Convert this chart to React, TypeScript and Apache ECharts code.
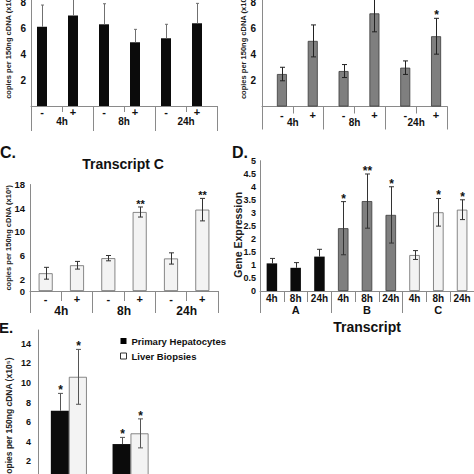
import React, { useEffect, useRef } from "react";
import * as echarts from "echarts";

// ---------------- data ----------------
const treatmentLabels = ["-", "+", "-", "+", "-", "+"];
const timeLabels = ["4h", "8h", "24h"];
const copiesTitle3 = "copies per 150ng cDNA (x10³)";
const copiesTitle5 = "copies per 150ng cDNA (x10⁵)";

const aValues = [6.13, 7.0, 6.32, 4.93, 5.24, 6.4];
const aErrors = [1.68, 1.5, 1.59, 1.0, 1.08, 1.54];
const abTicks = [2, 4, 6, 8];

const bValues = [2.5, 5.05, 2.73, 7.17, 2.99, 5.41];
const bErrors = [0.52, 1.23, 0.5, 1.42, 0.52, 1.38];
const bSignif = ["", "", "", "", "", "*"];

const cTitle = "Transcript C";
const cValues = [3.0, 4.35, 5.55, 13.35, 5.5, 13.75];
const cErrors = [1.0, 0.65, 0.45, 0.85, 0.95, 1.9];
const cSignif = ["", "", "", "**", "", "**"];
const cTicks = [0, 2, 6, 10, 14, 18];

const dTimeLabels = ["4h", "8h", "24h", "4h", "8h", "24h", "4h", "8h", "24h"];
const dTranscripts = ["A", "B", "C"];
const dValues = [1.06, 0.89, 1.32, 2.41, 3.45, 2.92, 1.38, 3.02, 3.12];
const dErrors = [0.19, 0.2, 0.28, 1.02, 1.04, 1.08, 0.17, 0.53, 0.38];
const dSignif = ["", "", "", "*", "**", "*", "", "*", "*"];
const dYTitle = "Gene Expression";
const dXTitle = "Transcript";

const eGroups = ["1", "2"];
const eNames = ["Primary Hepatocytes", "Liver Biopsies"];
const eHepatocytes = [7.16, 3.76];
const eHepErrors = [1.77, 0.68];
const eBiopsies = [10.62, 4.85];
const eBioErrors = [2.8, 1.48];
const eHepSignif = ["*", "*"];
const eBioSignif = ["*", "*"];

const panelLetters = ["C.", "D.", "E."];

// ---------------- styles ----------------
const FONT = "'Liberation Sans', Arial, Helvetica, sans-serif";
const AXIS = "#8a8a8a";
const TEXT = "#111111";
const BLACK = { color: "#0b0b0b" };
const GRAY = { color: "#7f7f7f", borderColor: "#3a3a3a", borderWidth: 0.8 };
const LIGHT = { color: "#f3f3f3", borderColor: "#6a6a6a", borderWidth: 0.8 };

function grid(left: number, top: number, width: number, height: number) {
  return { left, top, width, height, containLabel: false, outerBoundsMode: "none" };
}

function primaryX(gridIndex: number, data: string[], tickLen: number, margin: number, fontSize: number, shift: number) {
  return {
    type: "category",
    gridIndex,
    data,
    position: "bottom",
    axisLine: { show: true, lineStyle: { color: AXIS, width: 1 } },
    axisTick: { show: true, interval: 0, length: tickLen, lineStyle: { color: AXIS, width: 1 } },
    axisLabel: {
      interval: 0,
      margin,
      fontSize,
      fontWeight: "bold",
      color: TEXT,
      fontFamily: FONT,
      padding: shift < 0 ? [0, -2 * shift, 0, 0] : shift > 0 ? [0, 0, 0, 2 * shift] : 0,
    },
    splitLine: { show: false },
  };
}

function groupX(gridIndex: number, data: string[], tickLen: number, margin: number, fontSize: number, extra: any = {}) {
  return {
    type: "category",
    gridIndex,
    data,
    position: "bottom",
    axisLine: { show: false },
    axisTick: { show: true, interval: 0, length: tickLen, lineStyle: { color: AXIS, width: 1 } },
    axisLabel: { interval: 0, margin, fontSize, fontWeight: "bold", color: TEXT, fontFamily: FONT },
    splitLine: { show: false },
    ...extra,
  };
}

function valueY(
  gridIndex: number,
  max: number,
  interval: number,
  ticks: number[] | null,
  margin: number,
  fontSize: number,
  name: string,
  nameGap: number,
  nameSize: number,
  namePad: number[],
  hideMax: boolean
) {
  return {
    type: "value",
    gridIndex,
    min: 0,
    max,
    interval,
    axisLine: { show: true, lineStyle: { color: AXIS, width: 1 } },
    axisTick: { show: false },
    splitLine: { show: false },
    axisLabel: {
      margin,
      fontSize,
      fontWeight: "bold",
      color: TEXT,
      fontFamily: FONT,
      showMaxLabel: hideMax ? false : true,
      formatter: (v: number) => (ticks === null || ticks.indexOf(v) >= 0 ? String(v) : ""),
    },
    name,
    nameLocation: "middle",
    nameGap,
    nameMoveOverlap: false,
    nameTextStyle: { fontSize: nameSize, fontWeight: "bold", color: "#222", fontFamily: FONT, padding: namePad },
  };
}

function errorBars(
  xAxisIndex: number,
  yAxisIndex: number,
  values: number[],
  errors: number[],
  signif: string[],
  opts: { offset: number; both: (i: number) => boolean; color: string; cap: number; starSize: number }
) {
  return {
    type: "custom",
    xAxisIndex,
    yAxisIndex,
    clip: false,
    silent: true,
    z: 5,
    data: values.map((v, i) => [i, v]),
    renderItem: (params: any, api: any) => {
      const i = params.dataIndex;
      const v = values[i];
      const e = errors[i];
      const pTop = api.coord([i, v + e]);
      const pMid = api.coord([i, v]);
      const pBot = api.coord([i, v - e]);
      const x = Math.round(pTop[0] + opts.offset) + 0.5;
      const both = opts.both(i);
      const yEnd = both ? pBot[1] : pMid[1];
      const ls = { stroke: opts.color, lineWidth: 1 };
      const children: any[] = [
        { type: "line", shape: { x1: x, y1: pTop[1], x2: x, y2: yEnd }, style: ls },
        { type: "line", shape: { x1: x - opts.cap, y1: pTop[1], x2: x + opts.cap, y2: pTop[1] }, style: ls },
      ];
      if (both) {
        children.push({ type: "line", shape: { x1: x - opts.cap, y1: pBot[1], x2: x + opts.cap, y2: pBot[1] }, style: ls });
      }
      if (signif[i]) {
        children.push({
          type: "text",
          x,
          y: pTop[1] - 3,
          style: {
            text: signif[i],
            fill: TEXT,
            font: `bold ${opts.starSize}px ${FONT}`,
            align: "center",
            verticalAlign: "middle",
            textAlign: "center",
            textVerticalAlign: "middle",
          },
        });
      }
      return { type: "group", children };
    },
  };
}

function letter(text: string, x: number, y: number, size: number, align = "left") {
  return {
    type: "text",
    x,
    y,
    style: {
      text,
      fill: TEXT,
      font: `bold ${size}px ${FONT}`,
      align,
      textAlign: align,
      verticalAlign: "middle",
      textVerticalAlign: "middle",
    },
  };
}

function buildOption() {
  const none = () => false;
  const all = () => true;
  return {
    animation: false,
    backgroundColor: "#ffffff",
    textStyle: { fontFamily: FONT },
    grid: [
      grid(31, 0, 186, 106),
      grid(262, 0, 185, 106.5),
      grid(30, 184.5, 188, 106.5),
      grid(260, 160.7, 214, 130.3),
      grid(38, 330, 123.4, 150.9),
    ],
    xAxis: [
      primaryX(0, treatmentLabels, 6, 0, 11, -4.5),
      groupX(0, timeLabels, 25, 10, 10),
      primaryX(1, treatmentLabels, 7, 3, 11, 4.5),
      groupX(1, timeLabels, 23, 11, 10),
      primaryX(2, treatmentLabels, 10, 2, 11, 0),
      groupX(2, timeLabels, 22, 13.5, 12),
      primaryX(3, dTimeLabels, 11, 2, 10, 0),
      groupX(3, dTranscripts, 22, 13.5, 11, {
        name: dXTitle,
        nameLocation: "middle",
        nameGap: 29,
        nameMoveOverlap: false,
        nameTextStyle: { fontSize: 14, fontWeight: "bold", color: TEXT, fontFamily: FONT },
      }),
      {
        type: "category",
        gridIndex: 4,
        data: eGroups,
        axisLine: { show: true, lineStyle: { color: AXIS } },
        axisTick: { show: false },
        axisLabel: { show: false },
      },
    ],
    yAxis: [
      valueY(0, 8.2, 2, abTicks, 5, 10, copiesTitle3, 19, 7.5, [0, 0, 0, 14], true),
      valueY(1, 8.2, 2, abTicks, 6, 10, copiesTitle3, 15, 7.5, [0, 0, 0, 14], true),
      valueY(2, 18, 2, cTicks, 5, 9.5, copiesTitle3, 18, 7.5, [0, 0, 0, 0], false),
      valueY(3, 5, 0.5, null, 4, 9, dYTitle, 17, 10.5, [0, 18, 0, 0], false),
      valueY(4, 15.4, 2, null, 7, 9, copiesTitle5, 25, 8.5, [0, 25, 0, 0], true),
    ],
    legend: {
      show: true,
      orient: "vertical",
      left: 115,
      top: 331,
      itemWidth: 6,
      itemHeight: 6,
      itemGap: 5,
      icon: "rect",
      selectedMode: false,
      textStyle: { fontSize: 9.5, fontWeight: "bold", color: TEXT, fontFamily: FONT },
      data: [
        { name: eNames[0], itemStyle: { color: "#000000" } },
        { name: eNames[1], itemStyle: { color: "#ffffff", borderColor: "#333333", borderWidth: 1 } },
      ],
    },
    graphic: [
      letter(panelLetters[0], 0, 152, 16),
      letter(panelLetters[1], 232, 152, 16),
      letter(panelLetters[2], -1, 327, 15),
      letter(cTitle, 123, 164, 14, "center"),
    ],
    series: [
      // A
      { type: "bar", xAxisIndex: 0, yAxisIndex: 0, data: aValues, barWidth: 10, barGap: "-10%", itemStyle: BLACK, silent: true },
      { type: "bar", xAxisIndex: 0, yAxisIndex: 0, data: aValues.map(() => "-"), barWidth: 10, barGap: "-10%", silent: true },
      errorBars(0, 0, aValues, aErrors, treatmentLabels.map(() => ""), { offset: -4.5, both: none, color: "#707070", cap: 1.5, starSize: 12 }),
      // B
      { type: "bar", xAxisIndex: 2, yAxisIndex: 1, data: bValues.map(() => "-"), barWidth: 10, barGap: "-10%", silent: true },
      { type: "bar", xAxisIndex: 2, yAxisIndex: 1, data: bValues, barWidth: 10, barGap: "-10%", itemStyle: GRAY, silent: true },
      errorBars(2, 1, bValues, bErrors, bSignif, { offset: 4.5, both: all, color: "#222222", cap: 2.5, starSize: 12 }),
      // C
      { type: "bar", xAxisIndex: 4, yAxisIndex: 2, data: cValues, barWidth: 14, itemStyle: LIGHT, silent: true },
      errorBars(4, 2, cValues, cErrors, cSignif, { offset: 0, both: all, color: "#333333", cap: 2.5, starSize: 11 }),
      // D
      {
        type: "bar",
        xAxisIndex: 6,
        yAxisIndex: 3,
        barWidth: 10.5,
        silent: true,
        data: dValues.map((v, i) => ({ value: v, itemStyle: [BLACK, GRAY, LIGHT][Math.floor(i / 3)] })),
      },
      errorBars(6, 3, dValues, dErrors, dSignif, { offset: 0, both: (i) => i >= 3, color: "#333333", cap: 2.5, starSize: 12 }),
      // E
      { type: "bar", name: eNames[0], xAxisIndex: 8, yAxisIndex: 4, data: eHepatocytes, barWidth: 18, barGap: "0%", itemStyle: BLACK, silent: true },
      { type: "bar", name: eNames[1], xAxisIndex: 8, yAxisIndex: 4, data: eBiopsies, barWidth: 18, barGap: "0%", itemStyle: LIGHT, silent: true },
      errorBars(8, 4, eHepatocytes, eHepErrors, eHepSignif, { offset: -9, both: none, color: "#555555", cap: 2.5, starSize: 12 }),
      errorBars(8, 4, eBiopsies, eBioErrors, eBioSignif, { offset: 9, both: all, color: "#555555", cap: 2.5, starSize: 12 }),
    ],
  };
}

export default function App() {
  const ref = useRef<HTMLDivElement>(null);
  useEffect(() => {
    if (!ref.current) return;
    const chart = echarts.init(ref.current, null, { renderer: "svg" });
    chart.setOption(buildOption() as any);
    return () => chart.dispose();
  }, []);
  return (
    <div
      ref={ref}
      style={{ position: "fixed", left: 0, top: 0, width: 474, height: 474, background: "#ffffff" }}
    />
  );
}
